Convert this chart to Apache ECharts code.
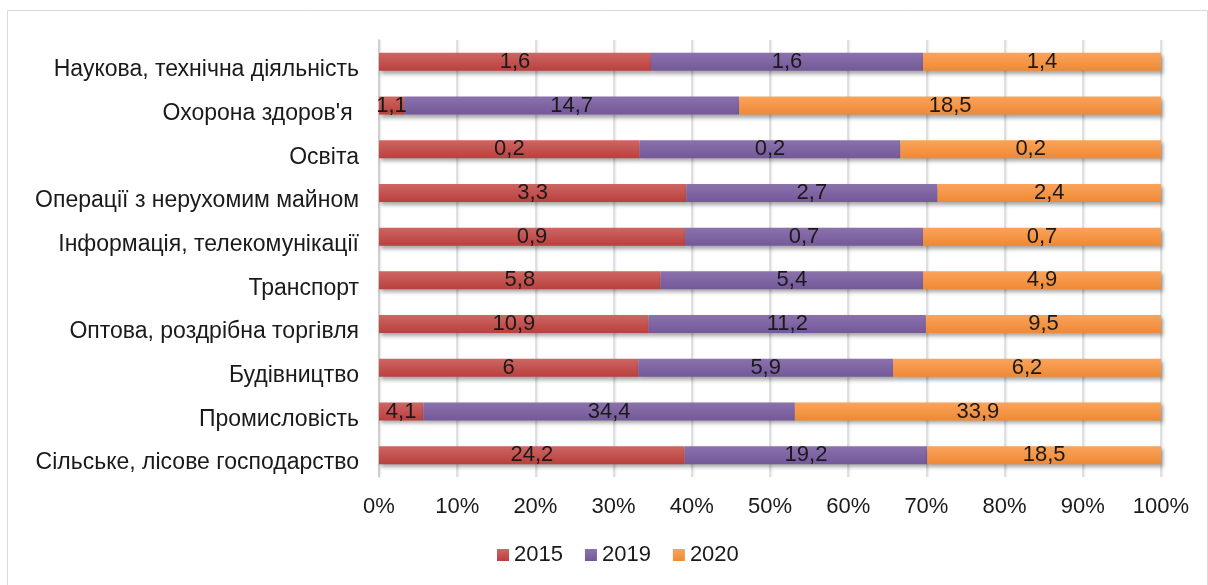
<!DOCTYPE html>
<html>
<head>
<meta charset="utf-8">
<script src="https://cdn.jsdelivr.net/npm/echarts@6/dist/echarts.min.js"></script>
<style>
  html, body { margin: 0; padding: 0; background: #fff; }
  #chart { width: 1208px; height: 585px; }
</style>
</head>
<body>
<div id="chart"></div>
<script>
// categories listed bottom to top (as the category axis draws them)
const categories = [
  'Сільське, лісове господарство',
  'Промисловість',
  'Будівництво',
  'Оптова, роздрібна торгівля',
  'Транспорт',
  'Інформація, телекомунікації',
  'Операції з нерухомим майном',
  'Освіта',
  "Охорона здоров'я ",
  'Наукова, технічна діяльність'
]
const years = ['2015', '2019', '2020']
const values2015 = [24.2, 4.1, 6, 10.9, 5.8, 0.9, 3.3, 0.2, 1.1, 1.6]
const values2019 = [19.2, 34.4, 5.9, 11.2, 5.4, 0.7, 2.7, 0.2, 14.7, 1.6]
const values2020 = [18.5, 33.9, 6.2, 9.5, 4.9, 0.7, 2.4, 0.2, 18.5, 1.4]

const colors = [
  ['#cd6663', '#b9403d'],
  ['#8b72ac', '#74589a'],
  ['#fba35b', '#ee8935']
]

const rows = [values2015, values2019, values2020]
const totals = categories.map((_, i) => rows.reduce((s, r) => s + r[i], 0))

const grad = c => new echarts.graphic.LinearGradient(0, 0, 0, 1, [
  { offset: 0, color: c[0] },
  { offset: 1, color: c[1] }
])

const font = 'Liberation Sans'
const chart = echarts.init(document.getElementById('chart'), null, { renderer: 'canvas' })

const option = {
  backgroundColor: '#fff',
  animation: false,
  graphic: [{
    type: 'rect',
    shape: { x: 7.5, y: 10.5, width: 1200, height: 580 },
    style: { fill: 'none', stroke: '#d9d9d9', lineWidth: 1 },
    silent: true
  }],
  grid: { left: 379, right: 47, top: 40, bottom: 108 },
  legend: {
    bottom: 14,
    left: 492,
    itemWidth: 12,
    itemHeight: 12,
    itemGap: 22,
    icon: 'rect',
    textStyle: { fontFamily: font, fontSize: 22, color: '#1a1a1a' },
    data: years
  },
  xAxis: {
    type: 'value',
    min: 0,
    max: 100,
    interval: 10,
    axisLine: { show: false },
    axisTick: { show: false },
    axisLabel: {
      formatter: '{value}%',
      fontFamily: font,
      fontSize: 22,
      color: '#1a1a1a',
      margin: 19
    },
    splitLine: {
      show: true,
      lineStyle: {
        color: '#d9d9d9', width: 1.5,
        shadowColor: 'rgba(0,0,0,0.12)', shadowBlur: 2, shadowOffsetX: 1
      }
    }
  },
  yAxis: {
    type: 'category',
    data: categories,
    axisLine: { show: true, lineStyle: { color: '#c8c8c8', width: 1.5 } },
    axisTick: { show: false },
    axisLabel: {
      fontFamily: font,
      fontSize: 23,
      color: '#1a1a1a',
      margin: 20,
      verticalAlign: 'top',
      lineHeight: 16
    }
  },
  series: rows.map((r, k) => ({
    name: years[k],
    type: 'bar',
    stack: 'total',
    barWidth: 18,
    data: r.map((v, i) => ({ value: v / totals[i] * 100, raw: v })),
    itemStyle: {
      color: grad(colors[k]),
      shadowColor: 'rgba(0,0,0,0.35)',
      shadowBlur: 4,
      shadowOffsetX: 2,
      shadowOffsetY: 3
    },
    label: {
      show: true,
      position: 'inside',
      fontFamily: font,
      fontSize: 22,
      color: '#1a1a1a',
      formatter: p => String(p.data.raw).replace('.', ',')
    }
  })),
  color: colors.map(c => c[0])
}

chart.setOption(option)
</script>
</body>
</html>
